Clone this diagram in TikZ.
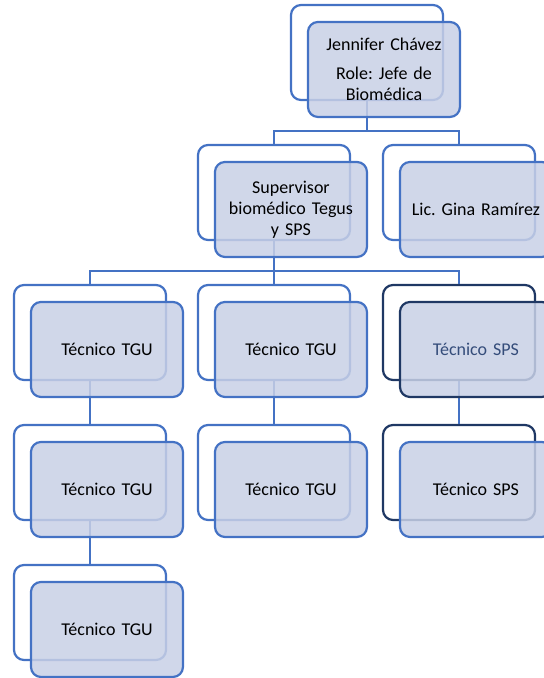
\documentclass[tikz,border=0pt]{standalone}
\usepackage{fontspec}
\setmainfont{Carlito}
\usetikzlibrary{positioning}
\definecolor{orgBlue}{RGB}{68,114,196}
\definecolor{orgNavy}{RGB}{31,56,100}
\definecolor{orgFill}{RGB}{200,208,230}
\definecolor{orgNavyText}{RGB}{52,76,122}
\frenchspacing

\begin{document}
\begin{tikzpicture}[node distance=140pt]
		\tikzstyle{back} = [rectangle, rounded corners=10pt, minimum width=152pt, 
		minimum height=95pt, draw=orgBlue, line width=2.2pt, fill=white]
		\tikzstyle{front} = [rectangle, rounded corners=10pt, minimum width=152pt, 
		minimum height=95pt, draw=orgBlue, line width=2.2pt, fill=orgFill, fill opacity=0.85, 
		text opacity=1, text width=140pt, align=center, font=\fontsize{18}{21}\selectfont, node distance=24pt]
		\tikzstyle{link} = [draw=orgBlue, line width=2.2pt]
		\useasboundingbox (0,0) rectangle (544pt,-678pt);
		% back boxes
		\node (jefe) [back] at (367pt,-52.5pt) {};
		\node (supervisor) [back, below of=jefe, xshift=-93pt] {};
		\node (gina) [back, below of=jefe, xshift=92pt] {};
		\node (tgu1) [back, below of=supervisor, xshift=-184pt] {};
		\node (tgu2) [back, below of=supervisor] {};
		\node (sps1) [back, below of=supervisor, xshift=185pt, draw=orgNavy] {};
		\node (tgu3) [back, below of=tgu1] {};
		\node (tgu4) [back, below of=tgu2] {};
		\node (sps2) [back, below of=sps1, draw=orgNavy] {};
		\node (tgu5) [back, below of=tgu3] {};
		% connectors
		\draw [link] (jefe.south) -- ++(0,-30pt) -| (supervisor.north);
		\draw [link] (jefe.south) -- ++(0,-30pt) -| (gina.north);
		\draw [link] (supervisor.south) -- ++(0,-30pt) -| (tgu1.north);
		\draw [link] (supervisor.south) -- ++(0,-30pt) -| (tgu2.north);
		\draw [link] (supervisor.south) -- ++(0,-30pt) -| (sps1.north);
		\draw [link] (tgu1.south) -- (tgu3.north);
		\draw [link] (tgu3.south) -- (tgu5.north);
		\draw [link] (tgu2.south) -- (tgu4.north);
		\draw [link] (sps1.south) -- (sps2.north);
		% front boxes
		\node (jefeFront) [front, below right of=jefe] {Jennifer Chávez\\[8pt]Role: Jefe de\\Biomédica};
		\node (supervisorFront) [front, below right of=supervisor] {Supervisor\\biomédico Tegus\\y SPS};
		\node (ginaFront) [front, below right of=gina] {Lic. Gina Ramírez};
		\node (tgu1Front) [front, below right of=tgu1] {Técnico TGU};
		\node (tgu2Front) [front, below right of=tgu2] {Técnico TGU};
		\node (sps1Front) [front, below right of=sps1, draw=orgNavy, text=orgNavyText] {Técnico SPS};
		\node (tgu3Front) [front, below right of=tgu3] {Técnico TGU};
		\node (tgu4Front) [front, below right of=tgu4] {Técnico TGU};
		\node (sps2Front) [front, below right of=sps2] {Técnico SPS};
		\node (tgu5Front) [front, below right of=tgu5] {Técnico TGU};
\end{tikzpicture}
\end{document}
